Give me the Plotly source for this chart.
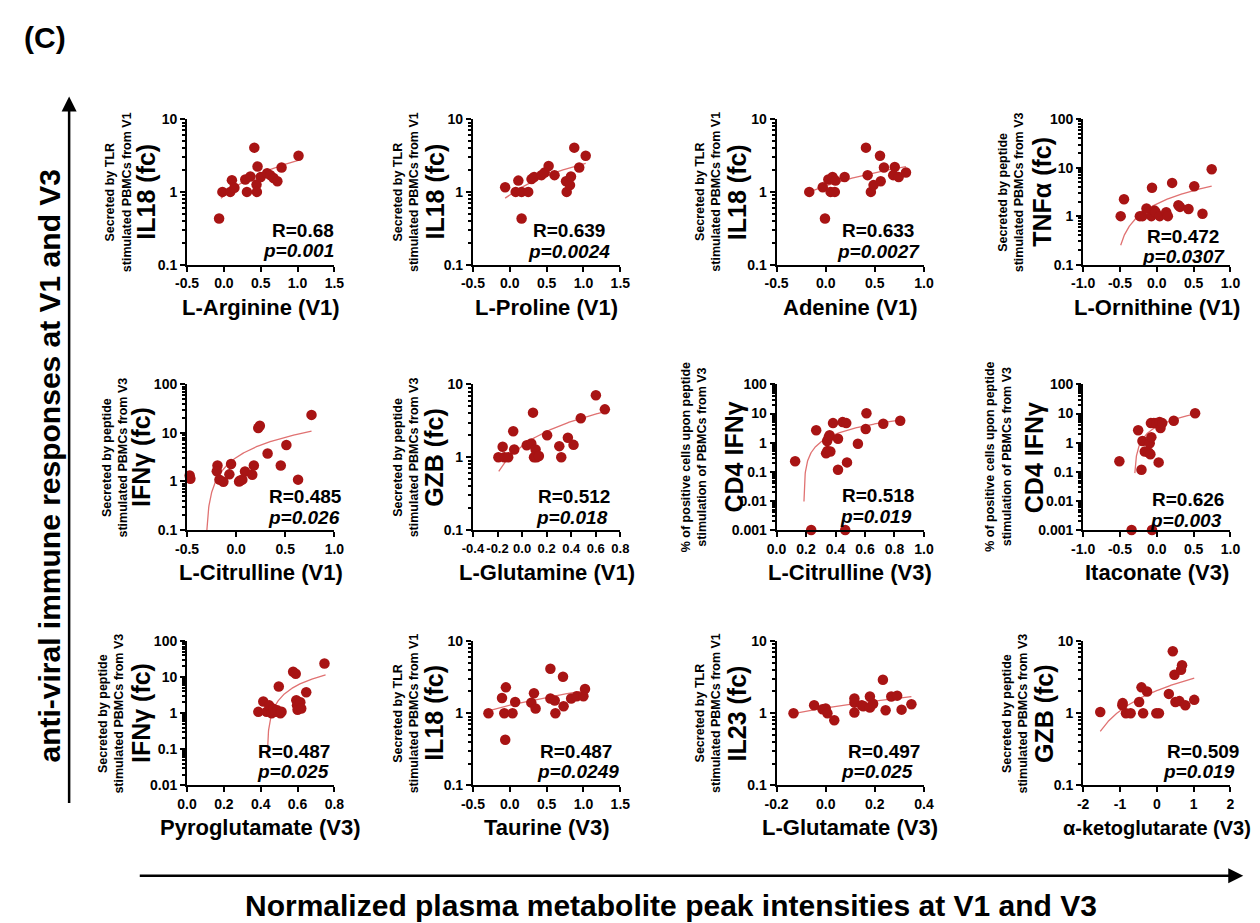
import numpy as np
import plotly.graph_objects as go

W, H = 1260, 923

# ---------------- data ----------------
arginine_v1 = [-0.065, -0.02, 0.087, 0.109, 0.143, 0.29, 0.313, 0.36, 0.413, 0.443, 0.448, 0.457, 0.5, 0.587, 0.63, 0.674, 0.726, 0.783, 1.013]
il18_vs_arginine = [0.43, 1.0, 1.0, 1.45, 1.14, 1.48, 1.0, 1.63, 4.06, 1.26, 1.0, 2.23, 1.6, 1.81, 1.7, 1.55, 1.4, 2.16, 3.14]
fit_arginine = [[-0.04, 1.02], [0.82, 2.74]]

proline_v1 = [-0.063, 0.08, 0.116, 0.16, 0.16, 0.25, 0.295, 0.33, 0.43, 0.473, 0.527, 0.607, 0.763, 0.772, 0.817, 0.83, 0.875, 0.942, 1.03]
il18_vs_proline = [1.16, 1.0, 1.43, 1.0, 0.43, 1.0, 1.5, 1.6, 1.7, 1.85, 2.27, 1.7, 1.4, 1.0, 1.24, 1.63, 4.06, 2.16, 3.14]
fit_proline = [[-0.063, 1.03], [0.82, 2.47]]

adenine_v1 = [-0.167, -0.03, -0.007, 0.027, 0.05, 0.07, 0.093, 0.1, 0.193, 0.41, 0.427, 0.46, 0.487, 0.553, 0.56, 0.593, 0.687, 0.703, 0.743, 0.817]
il18_vs_adenine = [1.0, 1.16, 0.43, 1.48, 1.0, 1.6, 1.0, 1.43, 1.6, 4.06, 1.7, 1.0, 1.24, 3.14, 1.4, 2.16, 1.7, 2.2, 1.6, 1.85]
fit_adenine = [[-0.167, 0.817], [1.0, 2.23]]

ornithine_v1 = [-0.49, -0.445, -0.23, -0.195, -0.14, -0.074, -0.065, -0.03, -0.016, 0.04, 0.128, 0.15, 0.208, 0.293, 0.315, 0.43, 0.508, 0.62, 0.745]
tnfa_vs_ornithine = [1.0, 2.23, 1.0, 1.0, 1.44, 1.0, 3.84, 1.3, 1.2, 1.0, 1.2, 1.0, 4.85, 1.68, 1.55, 1.4, 4.15, 1.12, 9.3]
fit_ornithine = [[-0.49, 0.745], [0.25, 4.15]]

citrulline_v1 = [-0.473, -0.466, -0.19, -0.197, -0.17, -0.13, -0.069, -0.052, 0.03, 0.04, 0.063, 0.09, 0.164, 0.18, 0.225, 0.241, 0.32, 0.454, 0.511, 0.63, 0.767]
ifng_vs_citrulline = [1.33, 1.14, 2.13, 1.63, 1.09, 0.99, 1.4, 2.3, 1.0, 1.05, 1.09, 1.6, 1.38, 2.13, 12.7, 14.1, 3.78, 2.13, 5.66, 1.09, 23.6]
fit_citrulline_v1 = [[-0.298, 0.767], [0.1, 10.9]]

glutamine_v1 = [-0.193, -0.158, -0.145, -0.113, -0.072, -0.064, 0.038, 0.075, 0.089, 0.097, 0.11, 0.118, 0.137, 0.204, 0.303, 0.319, 0.373, 0.419, 0.478, 0.601, 0.674]
gzb_vs_glutamine = [1.0, 1.39, 1.0, 1.0, 2.27, 1.28, 1.46, 1.55, 4.1, 1.0, 1.28, 1.0, 1.04, 2.0, 1.42, 1.0, 1.85, 1.48, 3.44, 7.1, 4.55]
fit_glutamine = [[-0.19, 0.674], [0.64, 4.24]]

citrulline_v3 = [0.126, 0.235, 0.269, 0.336, 0.345, 0.343, 0.354, 0.36, 0.365, 0.383, 0.417, 0.417, 0.448, 0.466, 0.473, 0.478, 0.552, 0.605, 0.61, 0.724, 0.839]
cd4ifng_vs_citrulline = [0.23, 0.001, 2.67, 0.43, 0.52, 1.14, 1.55, 1.81, 0.5, 4.7, 1.36, 0.117, 5.1, 0.001, 4.7, 0.21, 0.92, 2.97, 10.3, 4.5, 5.7]
fit_citrulline_v3 = [[0.186, 0.839], [0.0095, 6.0]]

itaconate_v3 = [-0.508, -0.342, -0.253, -0.208, -0.195, -0.163, -0.11, -0.096, -0.087, -0.074, -0.065, -0.08, -0.04, -0.007, 0.025, 0.038, 0.05, 0.074, 0.23, 0.52]
cd4ifng_vs_itaconate = [0.23, 0.001, 2.67, 0.117, 1.14, 0.5, 0.46, 0.95, 0.40, 1.55, 0.001, 4.7, 4.7, 4.7, 0.21, 5.1, 3.2, 4.7, 5.7, 10.3]
fit_itaconate = [[-0.298, 0.52], [0.09, 9.75]]

pyroglutamate_v3 = [0.387, 0.414, 0.432, 0.446, 0.459, 0.468, 0.482, 0.49, 0.498, 0.507, 0.513, 0.576, 0.59, 0.593, 0.597, 0.6, 0.615, 0.62, 0.647, 0.746]
ifng_vs_pyroglutamate = [1.09, 2.1, 1.09, 1.65, 1.0, 1.33, 1.09, 1.2, 5.5, 1.0, 1.1, 14.1, 12.4, 2.3, 1.65, 1.25, 2.0, 1.35, 3.8, 23.8]
fit_pyroglutamate = [[0.435, 0.752], [0.059, 11.5]]

taurine_v3 = [-0.29, -0.106, -0.075, -0.062, -0.053, 0.037, 0.073, 0.292, 0.328, 0.35, 0.551, 0.551, 0.61, 0.619, 0.722, 0.73, 0.833, 0.909, 0.999, 1.021]
il18_vs_taurine = [1.0, 1.62, 1.0, 0.43, 2.28, 1.0, 1.43, 1.4, 1.89, 1.16, 4.12, 1.6, 1.5, 1.0, 3.2, 1.25, 1.6, 1.72, 1.72, 2.16]
fit_taurine = [[-0.29, 1.021], [1.08, 2.05]]

glutamate_v3 = [-0.131, -0.047, -0.013, 0.0, 0.007, 0.035, 0.117, 0.117, 0.117, 0.147, 0.153, 0.18, 0.18, 0.193, 0.233, 0.244, 0.267, 0.291, 0.309, 0.349]
il23_vs_glutamate = [1.0, 1.29, 1.13, 1.16, 1.0, 0.8, 1.6, 1.4, 1.02, 1.29, 1.25, 1.7, 1.2, 1.35, 2.9, 1.1, 1.7, 1.75, 1.12, 1.33]
fit_glutamate = [[-0.131, 0.349], [0.99, 1.7]]

akg_v3 = [-1.535, -0.935, -0.926, -0.837, -0.71, -0.479, -0.416, -0.371, -0.264, -0.013, 0.058, 0.327, 0.434, 0.479, 0.505, 0.613, 0.658, 0.685, 0.774, 1.016]
gzb_vs_akg = [1.04, 1.29, 1.38, 1.0, 1.0, 1.43, 2.28, 1.0, 2.0, 1.0, 1.0, 1.85, 7.2, 3.4, 1.43, 1.47, 4.0, 4.6, 1.29, 1.53]
fit_akg = [[-1.535, 1.016], [0.56, 3.05]]

x_titles = ["L-Arginine (V1)", "L-Proline (V1)", "Adenine (V1)", "L-Ornithine (V1)",
            "L-Citrulline (V1)", "L-Glutamine (V1)", "L-Citrulline (V3)", "Itaconate (V3)",
            "Pyroglutamate (V3)", "Taurine (V3)", "L-Glutamate (V3)", "α-ketoglutarate (V3)"]
y_titles = ["IL18 (fc)", "IL18 (fc)", "IL18 (fc)", "TNFα (fc)",
            "IFNγ (fc)", "GZB (fc)", "CD4 IFNγ", "CD4 IFNγ",
            "IFNγ (fc)", "IL18 (fc)", "IL23 (fc)", "GZB (fc)"]
TLR1 = "Secreted by TLR<br>stimulated PBMCs from V1"
PEP3 = "Secreted by peptide<br>stimulated PBMCs from V3"
PCT3 = "% of positive cells upon peptide<br>stimulation of PBMCs from V3"
y_subtitles = [TLR1, TLR1, TLR1, PEP3, PEP3, PEP3, PCT3, PCT3, PEP3, TLR1, TLR1, PEP3]
r_values = ["0.68", "0.639", "0.633", "0.472", "0.485", "0.512", "0.518", "0.626", "0.487", "0.487", "0.497", "0.509"]
p_values = ["0.001", "0.0024", "0.0027", "0.0307", "0.026", "0.018", "0.019", "0.003", "0.025", "0.0249", "0.025", "0.019"]

xt_a = ["-0.5", "0.0", "0.5", "1.0", "1.5"]
xt_b = ["-0.5", "0.0", "0.5", "1.0"]
xt_c = ["-1.0", "-0.5", "0.0", "0.5", "1.0"]
xt_d = ["-0.4", "-0.2", "0.0", "0.2", "0.4", "0.6", "0.8"]
xt_e = ["0.0", "0.2", "0.4", "0.6", "0.8", "1.0"]
xt_f = ["0.0", "0.2", "0.4", "0.6", "0.8"]
xt_g = ["-0.2", "0.0", "0.2", "0.4"]
xt_h = ["-2", "-1", "0", "1", "2"]
x_ticks = [xt_a, xt_a, xt_b, xt_c, xt_b, xt_d, xt_e, xt_c, xt_f, xt_a, xt_g, xt_h]

yt_10 = ["0.1", "1", "10"]
yt_100 = ["0.1", "1", "10", "100"]
yt_1000 = ["0.001", "0.01", "0.1", "1", "10", "100"]
yt_p9 = ["0.01", "0.1", "1", "10", "100"]
y_ticks = [yt_10, yt_10, yt_10, yt_100, yt_100, yt_10, yt_1000, yt_1000, yt_p9, yt_10, yt_10, yt_10]

xs = [arginine_v1, proline_v1, adenine_v1, ornithine_v1, citrulline_v1, glutamine_v1,
      citrulline_v3, itaconate_v3, pyroglutamate_v3, taurine_v3, glutamate_v3, akg_v3]
ys = [il18_vs_arginine, il18_vs_proline, il18_vs_adenine, tnfa_vs_ornithine, ifng_vs_citrulline,
      gzb_vs_glutamine, cd4ifng_vs_citrulline, cd4ifng_vs_itaconate, ifng_vs_pyroglutamate,
      il18_vs_taurine, il23_vs_glutamate, gzb_vs_akg]
fits = [fit_arginine, fit_proline, fit_adenine, fit_ornithine, fit_citrulline_v1, fit_glutamine,
        fit_citrulline_v3, fit_itaconate, fit_pyroglutamate, fit_taurine, fit_glutamate, fit_akg]

# ---------------- layout geometry (pixels) ----------------
col_px = [(170, 320), (461, 611), (770, 920), (1082, 1232)]
row_px = [(105, 253), (375, 523), (636, 783)]
xtitle_y = [297, 566, 826]
xtitle_size = [22, 22, 22, 22, 22, 22, 22, 22, 22, 22, 22, 20]
ytitle_px = [(100, 128), (393, 422), (700, 730), (1008, 1040),
             (97, 123), (393, 422), (686, 727), (996, 1032),
             (93, 123), (393, 422), (700, 730), (1013, 1042)]
stat_px = [(322, 322, 218, 239), (597, 603, 218, 240), (912, 918, 218, 240), (1222, 1228, 224, 245),
           (330, 328, 489, 510), (603, 600, 489, 510), (912, 910, 488, 509), (1227, 1225, 492, 513),
           (318, 317, 748, 769), (605, 612, 748, 769), (918, 911, 748, 769), (1243, 1239, 748, 769)]

def fx(px):
    return px / W

def fy(py):
    return 1 - py / H

FONT = "Arial, Liberation Sans, Helvetica, sans-serif"
DOT = "#A81414"
LINE = "#E07272"

fig = go.Figure()
layout = dict(width=W, height=H, margin=dict(l=0, r=0, t=0, b=0),
              paper_bgcolor="white", plot_bgcolor="white", showlegend=False,
              font=dict(family=FONT, color="black"))
annotations = []

for i in range(12):
    r, c = divmod(i, 4)
    n = "" if i == 0 else str(i + 1)
    xa, ya = "x" + n, "y" + n
    xt = x_ticks[i]
    yt = y_ticks[i]
    xv = [float(t) for t in xt]
    yv = [float(t) for t in yt]

    fxs = np.linspace(fits[i][0][0], fits[i][0][1], 400)
    fys = fits[i][1][0] + (fits[i][1][1] - fits[i][1][0]) * (fxs - fits[i][0][0]) / (fits[i][0][1] - fits[i][0][0])
    fig.add_trace(go.Scatter(x=fxs, y=fys, mode="lines", xaxis=xa, yaxis=ya,
                             line=dict(color=LINE, width=1.3), hoverinfo="skip"))
    fig.add_trace(go.Scatter(x=xs[i], y=ys[i], mode="markers", xaxis=xa, yaxis=ya,
                             cliponaxis=False,
                             marker=dict(color=DOT, size=10.5, line=dict(width=0))))

    minor_vals = []
    for d in range(int(round(np.log10(yv[0]))), int(round(np.log10(yv[-1])))):
        for k in range(2, 10):
            minor_vals.append(k * 10.0 ** d)

    tsize = 13 if len(xt) > 6 else 14
    layout["xaxis" + n] = dict(
        domain=[fx(col_px[c][0]), fx(col_px[c][1])], anchor=ya,
        range=[xv[0], xv[-1]], tickmode="array", tickvals=xv, ticktext=xt, tickangle=0,
        showline=True, linecolor="black", linewidth=2, ticks="outside",
        ticklen=5, tickwidth=2, tickcolor="black", showgrid=False, zeroline=False,
        tickfont=dict(family=FONT, size=tsize, color="black", weight="bold"))
    layout["yaxis" + n] = dict(
        domain=[fy(row_px[r][1]), fy(row_px[r][0])], anchor=xa, type="log",
        range=[np.log10(yv[0]), np.log10(yv[-1])], tickmode="array", tickvals=yv, ticktext=yt,
        showline=True, linecolor="black", linewidth=2, ticks="outside",
        ticklen=5, tickwidth=2, tickcolor="black", showgrid=False, zeroline=False,
        minor=dict(tickmode="array", tickvals=minor_vals, ticks="outside", ticklen=3,
                   tickwidth=1.5, tickcolor="black", showgrid=False),
        tickfont=dict(family=FONT, size=14, color="black", weight="bold"))

    ymid = (row_px[r][0] + row_px[r][1]) / 2
    xmid = (col_px[c][0] + col_px[c][1]) / 2
    annotations.append(dict(text="<b>" + x_titles[i] + "</b>", x=fx(xmid), y=fy(xtitle_y[r]),
                            xref="paper", yref="paper", showarrow=False, xanchor="center",
                            yanchor="middle", font=dict(size=xtitle_size[i], family=FONT, color="black")))
    annotations.append(dict(text="<b>" + y_subtitles[i] + "</b>", x=fx(ytitle_px[i][0]), y=fy(ymid),
                            xref="paper", yref="paper", showarrow=False, textangle=-90,
                            xanchor="center", yanchor="middle",
                            font=dict(size=12.5, family=FONT, color="black")))
    annotations.append(dict(text="<b>" + y_titles[i] + "</b>", x=fx(ytitle_px[i][1]), y=fy(ymid),
                            xref="paper", yref="paper", showarrow=False, textangle=-90,
                            xanchor="center", yanchor="middle",
                            font=dict(size=25, family=FONT, color="black")))
    sp = stat_px[i]
    annotations.append(dict(text="<b>R=" + r_values[i] + "</b>", x=fx(sp[0]), y=fy(sp[2]),
                            xref="paper", yref="paper", showarrow=False, xanchor="right",
                            yanchor="middle", font=dict(size=19, family=FONT, color="black")))
    annotations.append(dict(text="<b><i>p=" + p_values[i] + "</i></b>", x=fx(sp[1]), y=fy(sp[3]),
                            xref="paper", yref="paper", showarrow=False, xanchor="right",
                            yanchor="middle", font=dict(size=19, family=FONT, color="black")))

# panel label and big axis arrows
annotations.append(dict(text="<b>(C)</b>", x=fx(2), y=fy(22), xref="paper", yref="paper",
                        showarrow=False, xanchor="left", yanchor="middle",
                        font=dict(size=30, family=FONT, color="black")))
annotations.append(dict(text="<b>anti-viral immune responses at V1 and V3</b>", x=fx(30), y=fy(457),
                        xref="paper", yref="paper", showarrow=False, textangle=-90,
                        xanchor="center", yanchor="middle",
                        font=dict(size=30, family=FONT, color="black")))
annotations.append(dict(text="<b>Normalized plasma metabolite peak intensities at V1 and V3</b>",
                        x=fx(663), y=fy(905), xref="paper", yref="paper", showarrow=False,
                        xanchor="center", yanchor="middle",
                        font=dict(size=30, family=FONT, color="black")))
annotations.append(dict(text="", x=fx(50), y=fy(82), ax=0, ay=708, xref="paper", yref="paper",
                        showarrow=True, arrowhead=2, arrowsize=1.2, arrowwidth=2.5,
                        arrowcolor="black"))
annotations.append(dict(text="", x=fx(1245), y=fy(875), ax=-1105, ay=0, xref="paper", yref="paper",
                        showarrow=True, arrowhead=2, arrowsize=1.2, arrowwidth=2.5,
                        arrowcolor="black"))

layout["annotations"] = annotations
fig.update_layout(**layout)
fig.write_html("out.html")
